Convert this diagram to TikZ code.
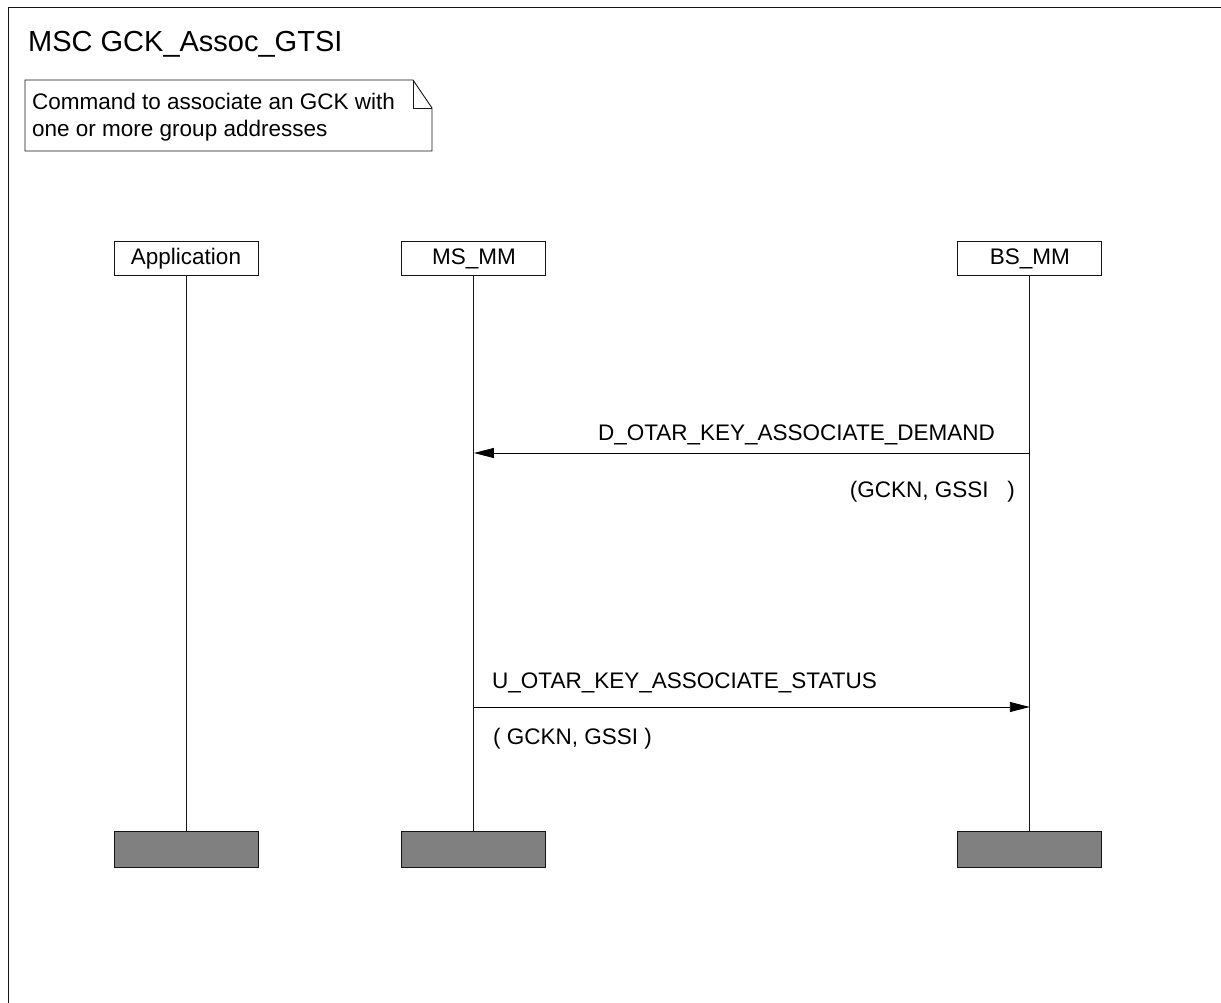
\documentclass[tikz,border=0pt]{standalone}
\usepackage{fontspec}
\setmainfont{Liberation Sans}
\usepackage{tikz}
\usetikzlibrary{arrows.meta, positioning, calc}
\definecolor{endgrey}{RGB}{128,128,128}
\definecolor{mydark}{RGB}{20,20,20}
\tikzset{
  inst/.style={rectangle, draw=mydark, fill=white,
    minimum width=144pt, minimum height=34pt, inner sep=0pt,
    font=\fontsize{22.5}{26}\selectfont, line width=0.9pt},
  instend/.style={rectangle, draw=mydark, fill=endgrey,
    minimum width=144pt, minimum height=36pt, line width=1pt},
  life/.style={line width=0.9pt, color=mydark},
  msg/.style={-{Triangle[length=20pt, width=10pt]}, line width=0.9pt, color=black},
  msglabel/.style={inner sep=0pt, font=\fontsize{22.5}{26}\selectfont},
  notebox/.style={line width=0.9pt, draw=mydark}
}

\begin{document}
\begin{tikzpicture}[x=1pt, y=-1pt]
  \useasboundingbox (0,0) rectangle (1221,1003);

  % frame, open at right and bottom
  \draw[line width=0.9pt, color=mydark] (8,1003) -- (8,7) -- (1221,7);
  \node[anchor=base west, inner sep=0pt, font=\fontsize{29}{33}\selectfont] (title) at (28,52) {MSC GCK\_Assoc\_GTSI};

  % comment
  \draw[notebox] (25,80) -- (413,80) -- (432,108) -- (432,151) -- (25,151) -- cycle;
  \draw[notebox] (413,80) -- (413,108) -- (432,108);
  \node[anchor=base west, align=left, inner sep=0pt, font=\fontsize{22.5}{27}\selectfont] (comment) at (32,137)
    {Command to associate an GCK with\\one or more group addresses};

  % instances
  \node[inst] (app) at (186,258.5) {Application};
  \node[inst, right=143pt of app] (msmm) {MS\_MM};
  \node[inst, right=411pt of msmm] (bsmm) {BS\_MM};

  \node[instend] (append) at (186,849) {};
  \node[instend] (msend) at (msmm |- append) {};
  \node[instend] (bsend) at (bsmm |- append) {};

  \draw[life] (app) -- (append);
  \draw[life] (msmm) -- (msend);
  \draw[life] (bsmm) -- (bsend);

  % messages
  \coordinate (dem-s) at (bsmm.south |- 0,453);
  \coordinate (dem-e) at (msmm.south |- 0,453);
  \coordinate (sta-s) at (msmm.south |- 0,707);
  \coordinate (sta-e) at (bsmm.south |- 0,707);

  \draw[msg] (dem-s) -- (dem-e);
  \node[msglabel, anchor=base east] (demlbl) at (995,440) {D\_OTAR\_KEY\_ASSOCIATE\_DEMAND};
  \node[msglabel, anchor=base east] (dempar) at (1015,497) {(GCKN, GSSI~~~)};

  \draw[msg] (sta-s) -- (sta-e);
  \node[msglabel, anchor=base west] (stalbl) at (492,688) {U\_OTAR\_KEY\_ASSOCIATE\_STATUS};
  \node[msglabel, anchor=base west] (stapar) at (493,744) {( GCKN, GSSI )};
\end{tikzpicture}
\end{document}
